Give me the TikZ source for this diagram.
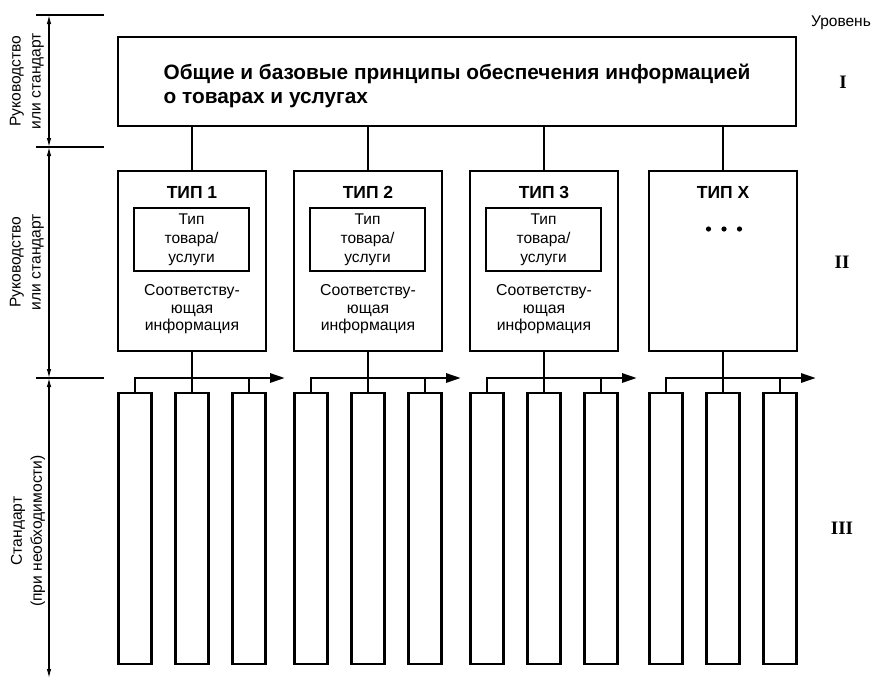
\documentclass[tikz,border=0pt]{standalone}
\usepackage{fontspec}
\setmainfont{Liberation Sans}
\newfontfamily\romfont{Liberation Serif}
\usetikzlibrary{arrows.meta}
\begin{document}
\begin{tikzpicture}[x=1pt,y=-1pt,line join=miter]
\useasboundingbox (0,0) rectangle (874,680);
\tikzset{
  frame/.style={draw,line width=2.8pt,inner sep=0pt},
  bigframe/.style={frame,minimum width=678pt,minimum height=89pt},
  typeframe/.style={frame,minimum width=148pt,minimum height=180pt},
  innerframe/.style={frame,minimum width=115pt,minimum height=63pt,align=center,
     font=\fontsize{15.5}{19}\selectfont},
  smallframe/.style={frame,minimum width=33pt,minimum height=271pt},
  conn/.style={line width=2.8pt},
  busarrow/.style={conn,-{Triangle[length=15pt,width=9pt]}},
  dimline/.style={line width=1.1pt,{Latex[length=9pt,width=4.5pt]}-{Latex[length=9pt,width=4.5pt]}},
  tickline/.style={line width=1.1pt},
  titletext/.style={align=left,font=\bfseries\fontsize{20.8}{24.5}\selectfont,inner sep=0pt},
  hdr/.style={font=\bfseries\fontsize{17.5}{18}\selectfont,inner sep=0pt},
  info/.style={align=center,font=\fontsize{15.8}{17.5}\selectfont,inner sep=0pt},
  sidelabel/.style={rotate=90,align=center,font=\fontsize{15.6}{20}\selectfont,inner sep=0pt},
  lvl/.style={font=\fontsize{15.5}{17}\selectfont,inner sep=0pt},
  roman/.style={font=\romfont\bfseries\fontsize{19}{22}\selectfont,inner sep=0pt}
}
% Level I box
\node[bigframe] (top) at (457,81.5) {};
\node[titletext] (title) at (457,86) {Общие и базовые принципы обеспечения информацией\\о товарах и услугах};

% Level II boxes
\foreach \c/\k/\lab in {192/1/ТИП 1,368/2/ТИП 2,544/3/ТИП 3,723/4/ТИП X}{
  \node[typeframe] (t\k) at (\c,261) {};
  \node[hdr] (h\k) at (\c,192) {\lab};
  \draw[conn] (t\k.north) -- (t\k.north |- top.south);
  \node[smallframe] (s\k a) at (\c-57,528.5) {};
  \node[smallframe] (s\k b) at (\c,528.5) {};
  \node[smallframe] (s\k c) at (\c+57,528.5) {};
  \coordinate (e\k) at (\c+93,378);
  \draw[busarrow] (s\k a.north) |- (e\k);
  \draw[conn] (t\k.south) -- (s\k b.north);
  \draw[conn] (s\k c.north) -- (s\k c.north |- e\k);
}
\foreach \c/\k in {192/1,368/2,544/3}{
  \node[innerframe] (i\k) at (\c-0.5,239.5) {Тип\\товара/\\услуги};
  \node[info] (n\k) at (\c,309.5) {Соответству-\\ющая\\информация};
}
\fill (708.5,229) circle (2.6pt) (724,229) circle (2.6pt) (739.5,229) circle (2.6pt);

% Left dimension lines
\coordinate (d0) at (49,15);
\coordinate (d1) at (49,147);
\coordinate (d2) at (49,378);
\coordinate (d3) at (49,678);
\foreach \y/\k in {15/0,147/1,378/2}{
  \coordinate (kl\k) at (36,\y);
  \coordinate (kr\k) at (104,\y);
  \draw[tickline] (kl\k) -- (kr\k);
}
\draw[dimline] (d0) -- (d1);
\draw[dimline] (d1) -- (d2);
\draw[dimline] (d2) -- (d3);
\node[sidelabel] (L1) at (27,81) {Руководство\\или стандарт};
\node[sidelabel] (L2) at (27,262) {Руководство\\или стандарт};
\node[sidelabel] (L3) at (28,531) {Стандарт\\(при необходимости)};

% Levels
\node[lvl] (lev) at (841,23) {Уровень};
\node[roman] (r1) at (843,82) {I};
\node[roman] (r2) at (842,262) {II};
\node[roman] (r3) at (842,528) {III};
\end{tikzpicture}
\end{document}
